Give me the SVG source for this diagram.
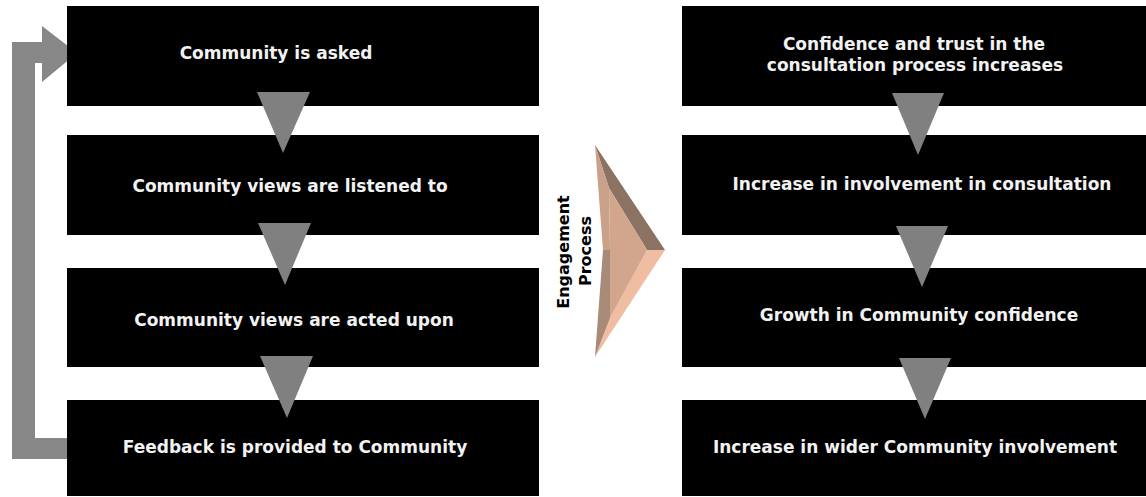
<svg xmlns="http://www.w3.org/2000/svg" width="1146" height="497" viewBox="0 0 1146 497">
<style>
.box{fill:#000}
.t{fill:#f2f2f2;font-family:"DejaVu Sans",Verdana,sans-serif;font-weight:bold;font-size:17px;text-anchor:middle}
.tri{fill:#808080}
.lab{fill:#000;font-family:"DejaVu Sans",Verdana,sans-serif;font-weight:bold;font-size:16px;text-anchor:middle}
</style>
<rect width="1146" height="497" fill="#fff"/>
<g id="connectors">
<path d="M12,459 L12,42 L42,42 L42,26 L77,53 L42,82 L42,63 L35,63 L35,438 L70,438 L70,459 Z" fill="#878787"/>
</g>
<g id="n1"><rect class="box" x="67" y="6" width="472" height="100"/><text class="t" x="276" y="59">Community is asked</text></g>
<g id="n2"><rect class="box" x="67" y="135" width="472" height="100"/><text class="t" x="290" y="192">Community views are listened to</text></g>
<g id="n3"><rect class="box" x="67" y="268" width="472" height="99"/><text class="t" x="294" y="326">Community views are acted upon</text></g>
<g id="n4"><rect class="box" x="67" y="400" width="472" height="96"/><text class="t" x="295" y="453">Feedback is provided to Community</text></g>
<g id="m1"><rect class="box" x="682" y="6" width="464" height="100"/><text class="t" x="914" y="50">Confidence and trust in the</text><text class="t" x="915" y="71">consultation process increases</text></g>
<g id="m2"><rect class="box" x="682" y="135" width="464" height="100"/><text class="t" x="922" y="190">Increase in involvement in consultation</text></g>
<g id="m3"><rect class="box" x="682" y="268" width="464" height="99"/><text class="t" x="919" y="321">Growth in Community confidence</text></g>
<g id="m4"><rect class="box" x="682" y="400" width="464" height="96"/><text class="t" x="915" y="453">Increase in wider Community involvement</text></g>
<g id="arrows">
<polygon class="tri" points="257,92 310,92 283,153"/>
<polygon class="tri" points="258,223 311,223 285,285"/>
<polygon class="tri" points="260,356 313,356 287,418"/>
<polygon class="tri" points="892,93 944,93 918,155"/>
<polygon class="tri" points="896,226 948,226 922,287"/>
<polygon class="tri" points="899,358 951,358 925,419"/>
</g>
<g id="engagement">
<polygon points="595,145 665,250 647,250 609,188" fill="#8b7262"/>
<polygon points="665,250 595,357 610,318 647,250" fill="#f0bda2"/>
<polygon points="595,145 609,188 610,250 603,250" fill="#caa088"/>
<polygon points="603,250 610,250 610,318 595,357" fill="#a88a78"/>
<polygon points="609,188 647,250 610,318 610,250" fill="#d2a68d"/>
<text class="lab" transform="translate(569,252) rotate(-90)">Engagement</text>
<text class="lab" transform="translate(591,251) rotate(-90)">Process</text>
</g>
</svg>
